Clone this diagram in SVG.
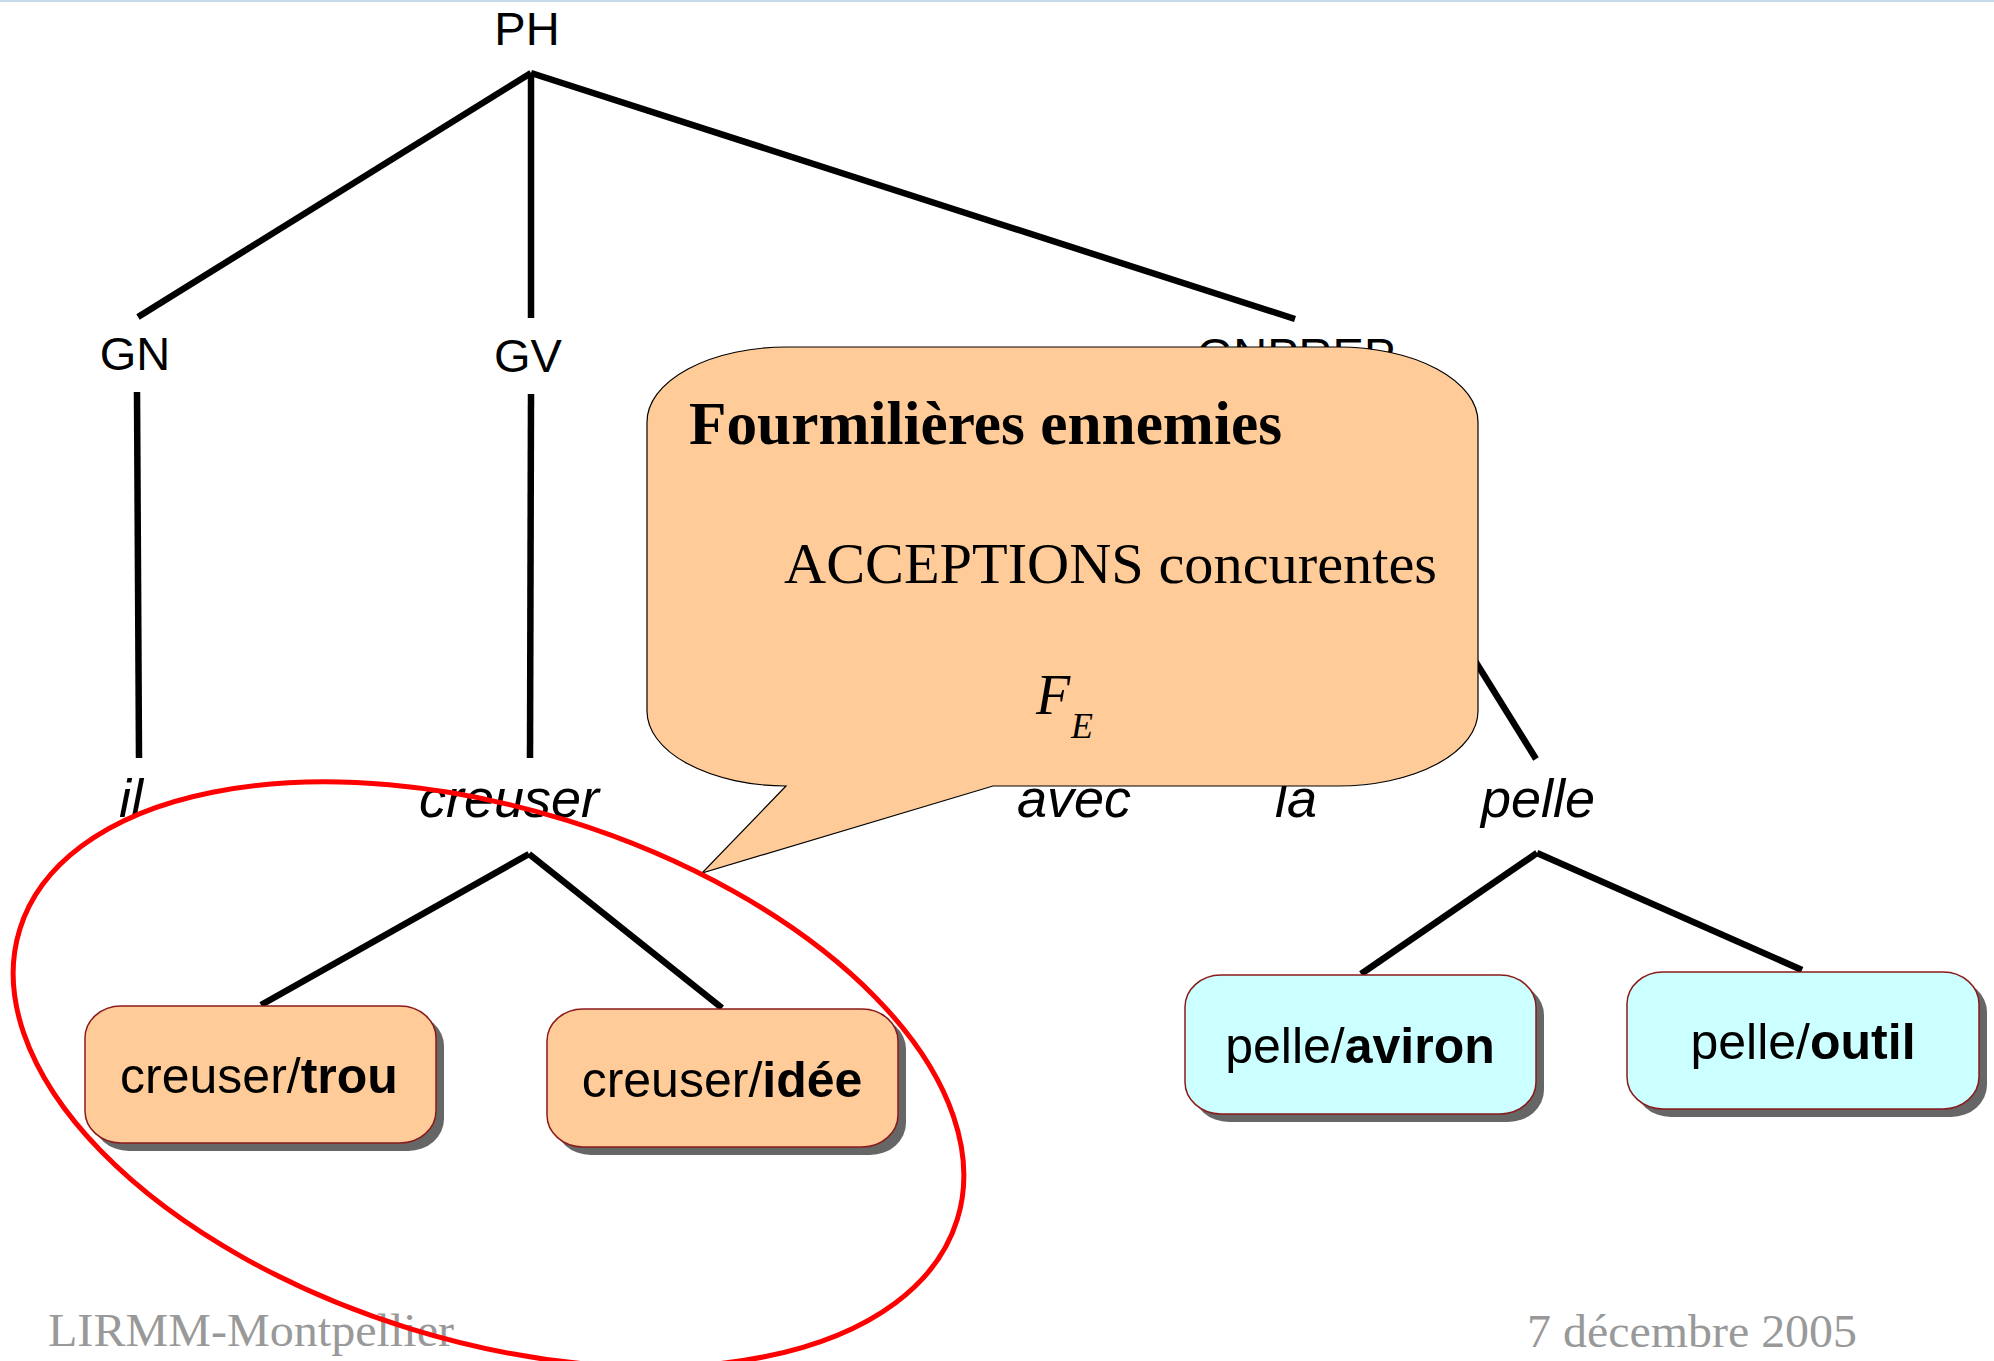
<svg xmlns="http://www.w3.org/2000/svg" width="1994" height="1361" viewBox="0 0 1994 1361">
  <style>
    .lbl { font-family: "Liberation Sans", Arial, sans-serif; font-size: 47px; fill: #000; text-anchor: middle; }
    .word { font-family: "Liberation Sans", Arial, sans-serif; font-size: 54px; font-style: italic; fill: #000; text-anchor: middle; }
    .box { font-family: "Liberation Sans", Arial, sans-serif; font-size: 50px; fill: #000; text-anchor: middle; }
    .box tspan.b { font-weight: bold; }
    .edge { stroke: #000; stroke-width: 6.5; fill: none; }
    .shadow { fill: #666666; }
    .peach { fill: #FFCC99; stroke: #8B1A1A; stroke-width: 1.5; }
    .cyan { fill: #CCFFFF; stroke: #8B1A1A; stroke-width: 1.5; }
    .serif { font-family: "Liberation Serif", "Times New Roman", serif; fill: #000; }
    .foot { font-family: "Liberation Serif", "Times New Roman", serif; font-size: 46px; fill: #999999; }
  </style>
  <rect x="0" y="0" width="1994" height="1361" fill="#ffffff"/>
  <rect x="0" y="0" width="1994" height="2" fill="#C6DCEA"/>

  <g id="connectors">
    <line class="edge" x1="531" y1="73" x2="138" y2="317"/>
    <line class="edge" x1="531" y1="73" x2="531" y2="318"/>
    <line class="edge" x1="531" y1="73" x2="1295" y2="319"/>
    <line class="edge" x1="137" y1="392" x2="139" y2="758"/>
    <line class="edge" x1="531" y1="394" x2="530" y2="758"/>
    <line class="edge" x1="1310" y1="395" x2="1536" y2="759"/>
    <line class="edge" x1="529" y1="854" x2="261" y2="1005"/>
    <line class="edge" x1="529" y1="854" x2="722" y2="1008"/>
    <line class="edge" x1="1537" y1="853" x2="1361" y2="974"/>
    <line class="edge" x1="1537" y1="853" x2="1802" y2="970"/>
  </g>

  <g id="node-PH"><text class="lbl" x="527" y="45">PH</text></g>
  <g id="node-GN"><text class="lbl" x="135" y="370">GN</text></g>
  <g id="node-GV"><text class="lbl" x="528" y="372">GV</text></g>
  <g id="node-GNPREP"><text class="lbl" x="1296" y="371">GNPREP</text></g>
  <g id="node-il"><text class="word" x="131" y="817">il</text></g>
  <g id="node-creuser"><text class="word" x="509" y="817">creuser</text></g>
  <g id="node-avec"><text class="word" x="1074" y="817">avec</text></g>
  <g id="node-la"><text class="word" x="1296" y="817">la</text></g>
  <g id="node-pelle"><text class="word" x="1538" y="817">pelle</text></g>

  <g id="node-creuser-trou">
    <rect class="shadow" x="93" y="1014" width="351" height="137" rx="36" ry="32"/>
    <rect class="peach" x="85" y="1006" width="351" height="137" rx="36" ry="32"/>
    <text class="box" x="259" y="1093">creuser/<tspan class="b">trou</tspan></text>
  </g>
  <g id="node-creuser-idee">
    <rect class="shadow" x="555" y="1017" width="351" height="138" rx="36" ry="32"/>
    <rect class="peach" x="547" y="1009" width="351" height="138" rx="36" ry="32"/>
    <text class="box" x="722" y="1097">creuser/<tspan class="b">idée</tspan></text>
  </g>
  <g id="node-pelle-aviron">
    <rect class="shadow" x="1193" y="983" width="351" height="139" rx="36" ry="32"/>
    <rect class="cyan" x="1185" y="975" width="351" height="139" rx="36" ry="32"/>
    <text class="box" x="1360" y="1063">pelle/<tspan class="b">aviron</tspan></text>
  </g>
  <g id="node-pelle-outil">
    <rect class="shadow" x="1635" y="980" width="352" height="137" rx="36" ry="32"/>
    <rect class="cyan" x="1627" y="972" width="352" height="137" rx="36" ry="32"/>
    <text class="box" x="1803" y="1059">pelle/<tspan class="b">outil</tspan></text>
  </g>

  <g id="footer">
    <text class="foot" x="48" y="1346" textLength="406" lengthAdjust="spacingAndGlyphs">LIRMM-Montpellier</text>
    <text class="foot" x="1527" y="1347" textLength="330" lengthAdjust="spacingAndGlyphs">7 décembre 2005</text>
  </g>

  <g id="callout">
    <path d="M 787 347 H 1338 A 140 75 0 0 1 1478 422 V 711 A 140 75 0 0 1 1338 786 H 993 L 702 873 L 786 786 A 140 75 0 0 1 647 711 V 422 A 140 75 0 0 1 787 347 Z" fill="#FFCC99" stroke="#000" stroke-width="1.2"/>
    <text class="serif" x="689" y="444" font-size="61" font-weight="bold" textLength="593" lengthAdjust="spacingAndGlyphs">Fourmilières ennemies</text>
    <text class="serif" x="784" y="583" font-size="58" textLength="653" lengthAdjust="spacingAndGlyphs">ACCEPTIONS concurentes</text>
    <text class="serif" x="1036" y="714" font-size="56" font-style="italic">F</text>
    <text class="serif" x="1071" y="738" font-size="36" font-style="italic">E</text>
  </g>

  <g id="highlight">
    <ellipse cx="488.5" cy="1074.5" rx="490.7" ry="266" transform="rotate(17.2 488.5 1074.5)" fill="none" stroke="#FF0000" stroke-width="5"/>
  </g>
</svg>
